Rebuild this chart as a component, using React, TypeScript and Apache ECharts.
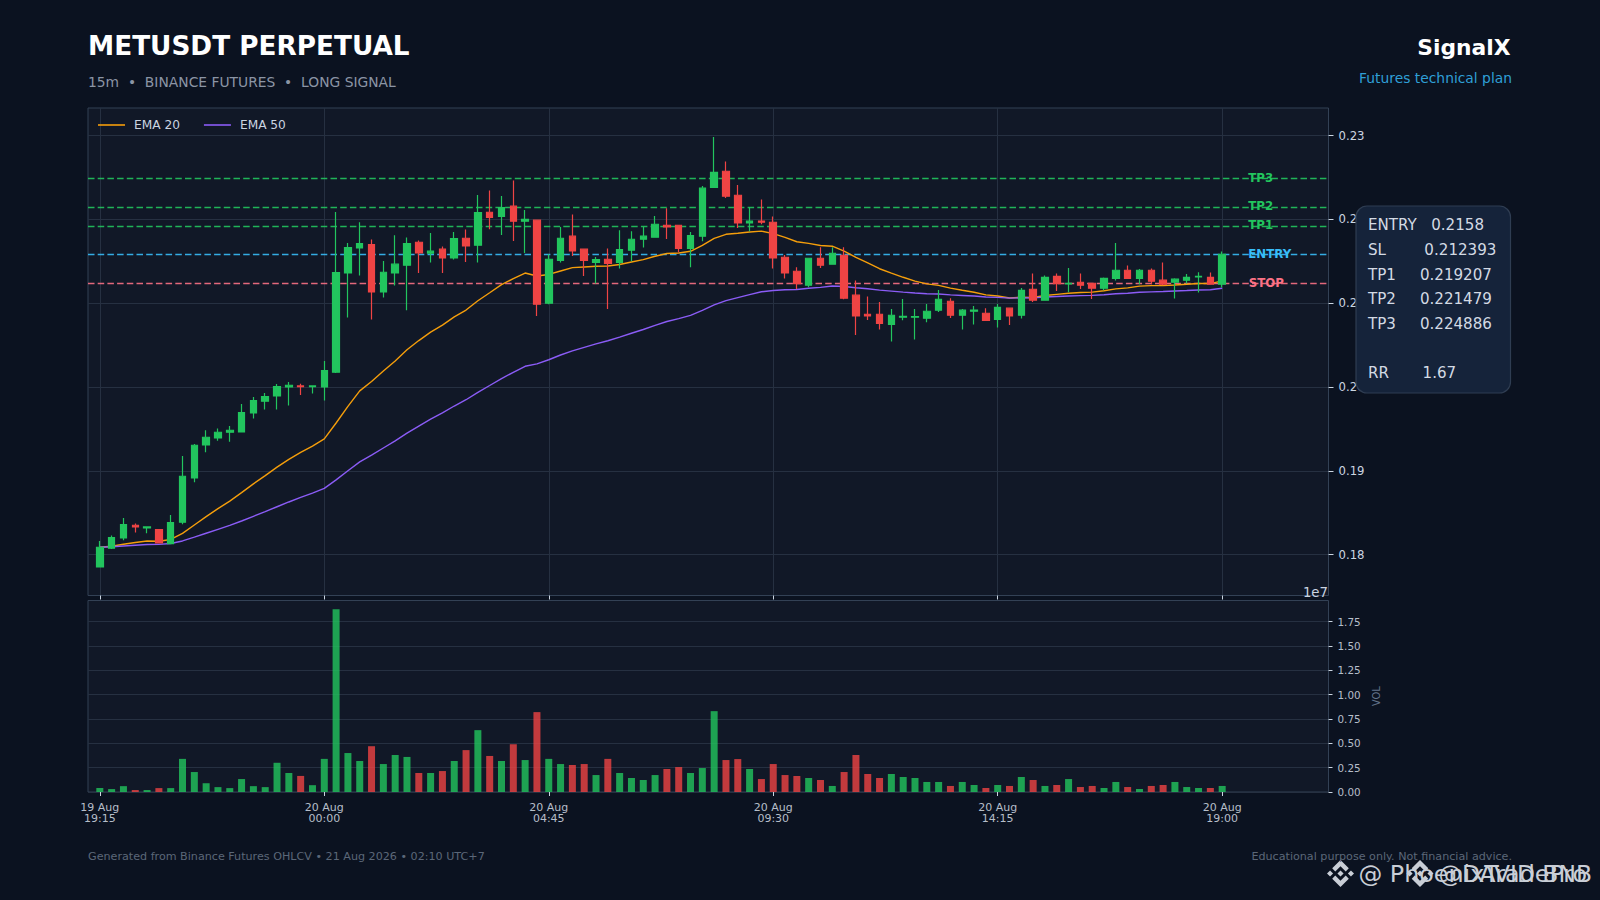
import React, { useEffect, useRef } from "react";
import * as echarts from "echarts";

const opens = [0.17853,0.18076,0.18199,0.1835,0.18318,0.18298,0.18131,0.18386,0.18915,0.19309,0.19392,0.1946,0.19464,0.19691,0.1983,0.19893,0.20001,0.20013,0.20005,0.20001,0.20176,0.21361,0.21659,0.21699,0.21134,0.21361,0.21453,0.21727,0.21596,0.21644,0.2154,0.21775,0.21691,0.22085,0.22037,0.22157,0.21978,0.2199,0.20999,0.21512,0.21799,0.21644,0.21488,0.21524,0.21488,0.21632,0.21763,0.21787,0.2193,0.2193,0.21655,0.21799,0.22383,0.22574,0.22288,0.21958,0.21978,0.21966,0.21548,0.21381,0.21214,0.21536,0.21465,0.21572,0.21095,0.20868,0.20868,0.20748,0.20832,0.20832,0.2082,0.20916,0.21023,0.20856,0.20904,0.2088,0.20808,0.2094,0.20856,0.21166,0.21035,0.21321,0.2123,0.2125,0.21238,0.21178,0.21297,0.21393,0.21297,0.21393,0.21274,0.2125,0.21274,0.21313,0.21309,0.21226];
const closes = [0.18088,0.18203,0.18358,0.1833,0.1833,0.18139,0.18382,0.18935,0.19305,0.194,0.1946,0.19484,0.19695,0.19838,0.19885,0.20005,0.20021,0.20005,0.20013,0.20196,0.21365,0.21663,0.21711,0.21134,0.21369,0.21465,0.21711,0.216,0.2162,0.2154,0.21771,0.21683,0.22081,0.22025,0.22141,0.21978,0.22,0.20987,0.21524,0.21775,0.21624,0.21512,0.2152,0.21476,0.2164,0.21763,0.21799,0.21942,0.2191,0.21655,0.21807,0.22372,0.22562,0.22276,0.21958,0.21978,0.21966,0.2154,0.21361,0.21234,0.21536,0.21453,0.21596,0.21059,0.20848,0.20848,0.2076,0.20856,0.20844,0.2084,0.20904,0.21047,0.20856,0.20916,0.20916,0.20796,0.20951,0.20848,0.21154,0.21035,0.21309,0.21234,0.21238,0.21214,0.21178,0.21297,0.21393,0.21297,0.21393,0.21262,0.21226,0.21286,0.21309,0.21321,0.21226,0.21584];
const lows = [0.17853,0.18068,0.18171,0.18263,0.18255,0.18139,0.18131,0.18362,0.18863,0.19221,0.1936,0.19348,0.19464,0.19623,0.1973,0.1973,0.19778,0.19905,0.19921,0.19838,0.20168,0.20828,0.21329,0.20804,0.21067,0.2121,0.20916,0.21361,0.21484,0.21361,0.2152,0.21492,0.21484,0.21882,0.21815,0.21743,0.216,0.20848,0.20987,0.21484,0.21564,0.21325,0.21234,0.20932,0.21413,0.215,0.21663,0.21787,0.21767,0.21608,0.21429,0.21739,0.22383,0.22256,0.21898,0.21858,0.21942,0.21413,0.21294,0.2117,0.2119,0.2142,0.21465,0.21047,0.20621,0.208,0.20685,0.20542,0.20796,0.20566,0.20772,0.20896,0.20824,0.20685,0.20745,0.20796,0.20709,0.20741,0.20816,0.21015,0.21035,0.21146,0.2113,0.2117,0.21051,0.21154,0.2127,0.21297,0.21226,0.21226,0.21214,0.21055,0.21234,0.21126,0.21226,0.21186];
const highs = [0.18163,0.18227,0.18438,0.1837,0.18334,0.18302,0.18473,0.19177,0.19321,0.19484,0.19504,0.19535,0.19798,0.19881,0.19929,0.20037,0.2006,0.2004,0.20015,0.20311,0.22089,0.21719,0.21966,0.21759,0.21504,0.21811,0.21783,0.21747,0.21838,0.21675,0.2185,0.21878,0.22292,0.22344,0.2228,0.22463,0.22113,0.21998,0.21584,0.2191,0.22057,0.21644,0.21552,0.21652,0.2187,0.21858,0.2191,0.22041,0.22133,0.2193,0.2185,0.22399,0.22984,0.2269,0.22411,0.22145,0.22236,0.22033,0.21576,0.21429,0.21536,0.21667,0.21667,0.21667,0.2127,0.21079,0.21015,0.20931,0.21051,0.20931,0.20991,0.21158,0.21059,0.20931,0.20967,0.2094,0.20991,0.2094,0.21182,0.21353,0.21329,0.21353,0.2142,0.21353,0.21238,0.21305,0.21719,0.21449,0.21409,0.21413,0.21484,0.21297,0.21349,0.21369,0.21365,0.21616];
const volumes = [0.041,0.03,0.06,0.02,0.02,0.04,0.04,0.34,0.205,0.09,0.05,0.04,0.133,0.06,0.05,0.3,0.195,0.165,0.07,0.34,1.876,0.4,0.318,0.47,0.287,0.38,0.36,0.195,0.195,0.215,0.318,0.43,0.635,0.37,0.318,0.49,0.328,0.82,0.34,0.287,0.277,0.287,0.174,0.34,0.195,0.144,0.123,0.174,0.236,0.256,0.195,0.246,0.83,0.328,0.338,0.236,0.133,0.287,0.174,0.164,0.144,0.123,0.062,0.205,0.38,0.185,0.144,0.185,0.154,0.144,0.103,0.103,0.062,0.103,0.072,0.041,0.072,0.062,0.154,0.123,0.062,0.072,0.133,0.051,0.062,0.041,0.103,0.051,0.031,0.062,0.072,0.103,0.051,0.041,0.041,0.062];
const ema20 = [0.18088,0.18099,0.18124,0.18144,0.18162,0.1816,0.18181,0.18253,0.18353,0.18453,0.18549,0.18638,0.18739,0.18844,0.18943,0.19044,0.19137,0.1922,0.19295,0.19381,0.1957,0.19769,0.19954,0.20066,0.2019,0.20311,0.20444,0.20554,0.20655,0.20739,0.20837,0.20918,0.21029,0.21124,0.21221,0.21293,0.2136,0.21324,0.21343,0.21384,0.21424,0.21432,0.2144,0.21443,0.21462,0.21491,0.2152,0.2156,0.21593,0.21599,0.21619,0.21691,0.21774,0.21822,0.21835,0.21849,0.2186,0.2183,0.21785,0.21733,0.21714,0.21689,0.2168,0.21621,0.21547,0.2148,0.21411,0.21358,0.21309,0.21264,0.2123,0.21213,0.21179,0.21154,0.21131,0.21099,0.21085,0.21062,0.21071,0.21068,0.21091,0.21105,0.21118,0.21127,0.21132,0.21148,0.21171,0.21183,0.21203,0.21209,0.2121,0.21217,0.21226,0.21235,0.21234,0.21267];
const ema50 = [0.18088,0.18093,0.18103,0.18112,0.18121,0.18122,0.18132,0.18163,0.18208,0.18255,0.18302,0.18348,0.18401,0.18457,0.18513,0.18571,0.18628,0.18682,0.18734,0.18791,0.18892,0.19001,0.19107,0.19186,0.19272,0.19358,0.1945,0.19534,0.19616,0.19691,0.19773,0.19848,0.19936,0.20018,0.20101,0.20175,0.20247,0.20276,0.20325,0.20382,0.20431,0.20473,0.20514,0.20552,0.20595,0.20641,0.20686,0.20735,0.20781,0.20815,0.20854,0.20914,0.20979,0.2103,0.21066,0.21102,0.21136,0.21152,0.2116,0.21163,0.21178,0.21189,0.21205,0.21199,0.21185,0.21172,0.21156,0.21144,0.21132,0.21121,0.21112,0.21109,0.21099,0.21092,0.21085,0.21074,0.21069,0.2106,0.21064,0.21063,0.21073,0.21079,0.21085,0.2109,0.21093,0.21101,0.21112,0.21119,0.2113,0.21135,0.21139,0.21145,0.21151,0.21158,0.21161,0.21178];

const levelNames = ["TP3", "TP2", "TP1", "ENTRY", "STOP"];
const levelValues = [0.224886, 0.221479, 0.219207, 0.2158, 0.212393];
const levelColors = ["#22c55e", "#22c55e", "#22c55e", "#38bdf8", "#fb7185"];
const levelLabelNudge = [0, -1, -1, -0.5, -0.5];

const priceTicks = [0.18, 0.19, 0.2, 0.21, 0.22, 0.23];
const volumeTicks = [0, 0.25, 0.5, 0.75, 1, 1.25, 1.5, 1.75];
const infoLines = [
  "ENTRY   0.2158",
  "SL        0.212393",
  "TP1     0.219207",
  "TP2     0.221479",
  "TP3     0.224886",
  "",
  "RR       1.67",
];

const LEAD = 1; // empty slot before the first candle
const TOTAL = 106;
const dayNames = ["19 Aug", "20 Aug", "21 Aug"];
const categories: string[] = [];
for (let i = 0; i < TOTAL; i++) {
  const minutes = 19 * 60 + i * 15;
  const day = Math.floor(minutes / 1440);
  const hh = String(Math.floor((minutes % 1440) / 60)).padStart(2, "0");
  const mm = String(minutes % 60).padStart(2, "0");
  categories.push(`${dayNames[day]}\n${hh}:${mm}`);
}
const isTick = (i: number) => (i - LEAD) % 19 === 0 && i - LEAD <= 95 && i >= LEAD;
const pad = (arr: any[]) => {
  const out: any[] = new Array(LEAD).fill("-").concat(arr);
  while (out.length < TOTAL) out.push("-");
  return out;
};

const FONT = "DejaVu Sans";
const BG = "#0b1220";
const PANEL = "#111827";
const GRID = "#263041";
const BORDER = "#334155";
const UP = "#22c55e";
const DOWN = "#ef4444";
const BINANCE =
  "M9.785 13.5l6.215-6.215 6.218 6.218 3.616-3.617L16 0.05 6.169 9.884zM0 16l3.616-3.616L7.232 16l-3.616 3.616zM9.785 18.5l6.215 6.216 6.218-6.219 3.618 3.615-9.836 9.836-9.832-9.833-.005-.005zM24.77 16l3.616-3.616L32 16l-3.616 3.616zM19.667 16h.002L16 12.332l-2.71 2.71-.312.311-.642.643-.005.005.005.005L16 19.669l3.669-3.669z";

export default function App() {
  const ref = useRef<HTMLDivElement>(null);
  useEffect(() => {
    document.body.style.margin = "0";
    document.body.style.background = BG;
    echarts.graphic.registerShape("binanceLogo", (echarts.graphic as any).extendPath(BINANCE, {}));
    const chart = echarts.init(ref.current!, undefined, { renderer: "svg" });

    const candleData = pad(opens.map((o, i) => [o, closes[i], lows[i], highs[i]]));
    const volData = pad(
      volumes.map((v, i) => ({
        value: v,
        itemStyle: { color: closes[i] >= opens[i] ? UP : DOWN, opacity: 0.8 },
      }))
    );

    const txt = (text: string, x: number, y: number, fontSize: number, fill: string, extra: any = {}) => ({
      type: "text",
      x,
      y,
      z: 50,
      silent: true,
      style: { text, x: 0, y: 0, fontSize, fill, fontFamily: FONT, verticalAlign: "middle", ...extra },
    });

    chart.setOption({
      animation: false,
      backgroundColor: BG,
      textStyle: { fontFamily: FONT },
      legend: {
        left: 98,
        top: 119,
        padding: 0,
        icon: "rect",
        itemWidth: 27,
        itemHeight: 1.6,
        itemGap: 24,
        data: ["EMA 20", "EMA 50"],
        textStyle: { color: "#cbd5e1", fontSize: 12.2, fontFamily: FONT, padding: [0, 0, 0, 4] },
      },
      grid: [
        { left: 88, top: 108, width: 1240.5, height: 487.5, show: true, backgroundColor: PANEL, borderColor: BORDER, borderWidth: 1 },
        { left: 88, top: 600.5, width: 1240.5, height: 191.5, show: true, backgroundColor: PANEL, borderColor: BORDER, borderWidth: 1 },
      ],
      xAxis: [
        {
          type: "category",
          gridIndex: 0,
          data: categories,
          boundaryGap: false,
          axisLine: { show: false },
          axisLabel: { show: false, interval: (i: number) => isTick(i) },
          axisTick: { show: true, length: 4, inside: false, interval: (i: number) => isTick(i), lineStyle: { color: "#cbd5e1", width: 1 } },
          splitLine: { show: true, interval: (i: number) => isTick(i), lineStyle: { color: GRID, width: 1 } },
        },
        {
          type: "category",
          gridIndex: 1,
          data: categories,
          boundaryGap: false,
          axisLine: { show: false },
          axisLabel: {
            show: true,
            interval: (i: number) => isTick(i),
            color: "#b6bec9",
            fontSize: 11,
            lineHeight: 11.3,
            margin: 10,
            fontFamily: FONT,
          },
          axisTick: { show: true, length: 4, interval: (i: number) => isTick(i), lineStyle: { color: "#cbd5e1", width: 1 } },
          splitLine: { show: false },
        },
      ],
      yAxis: [
        {
          type: "value",
          gridIndex: 0,
          position: "right",
          min: 0.17512,
          max: 0.23329,
          axisLine: { show: false },
          axisTick: { show: true, length: 5, customValues: priceTicks, lineStyle: { color: "#cbd5e1", width: 1 } },
          axisLabel: {
            customValues: priceTicks,
            color: "#cbd5e1",
            fontSize: 11.7,
            margin: 10,
            fontFamily: FONT,
            formatter: (v: number) => v.toFixed(2),
          },
          splitLine: { show: true, lineStyle: { color: GRID, width: 1 } },
        },
        {
          type: "value",
          gridIndex: 1,
          position: "right",
          min: 0,
          max: 1.966,
          name: "VOL",
          nameLocation: "middle",
          nameRotate: 90,
          nameGap: 37,
          nameTextStyle: { color: "#64748b", fontSize: 9.8, fontFamily: FONT },
          axisLine: { show: false },
          axisTick: { show: true, length: 4, customValues: volumeTicks, lineStyle: { color: "#cbd5e1", width: 1 } },
          axisLabel: {
            customValues: volumeTicks,
            color: "#b6bec9",
            fontSize: 10.4,
            margin: 9,
            fontFamily: FONT,
            formatter: (v: number) => v.toFixed(2),
          },
          splitLine: { show: true, lineStyle: { color: GRID, width: 1 } },
        },
      ],
      series: [
        {
          name: "Levels",
          type: "line",
          xAxisIndex: 0,
          yAxisIndex: 0,
          data: pad([]),
          symbol: "none",
          z: 1,
          silent: true,
          markLine: {
            silent: true,
            symbol: "none",
            precision: 6,
            z: 1,
            label: { show: false },
            data: levelValues.map((v, i) => ({
              yAxis: v,
              lineStyle: { color: levelColors[i], width: 1.3, type: [6.5, 3.2], opacity: 0.9 },
            })),
          },
          markPoint: {
            silent: true,
            symbol: "circle",
            symbolSize: 0,
            z: 20,
            data: levelValues.map((v, i) => ({
              coord: [98, v],
              label: {
                show: true,
                formatter: levelNames[i],
                position: "right",
                distance: 0,
                offset: [levelNames[i] === "STOP" ? 3 : 2.5, levelLabelNudge[i]],
                color: levelColors[i],
                fontWeight: "bold",
                fontSize: 11.8,
                fontFamily: FONT,
              },
            })),
          },
        },
        {
          name: "EMA 20",
          type: "line",
          xAxisIndex: 0,
          yAxisIndex: 0,
          data: pad(ema20),
          symbol: "none",
          z: 2,
          lineStyle: { color: "#f59e0b", width: 1.4 },
          itemStyle: { color: "#f59e0b" },
        },
        {
          name: "EMA 50",
          type: "line",
          xAxisIndex: 0,
          yAxisIndex: 0,
          data: pad(ema50),
          symbol: "none",
          z: 2,
          lineStyle: { color: "#8b5cf6", width: 1.4 },
          itemStyle: { color: "#8b5cf6" },
        },
        {
          name: "Price",
          type: "candlestick",
          xAxisIndex: 0,
          yAxisIndex: 0,
          data: candleData,
          barWidth: 7,
          z: 3,
          itemStyle: { color: UP, color0: DOWN, borderColor: UP, borderColor0: DOWN, borderWidth: 1.2 },
        },
        {
          name: "Volume",
          type: "bar",
          xAxisIndex: 1,
          yAxisIndex: 1,
          data: volData,
          barWidth: 7,
        },
      ],
      graphic: {
        elements: [
          txt("METUSDT PERPETUAL", 88, 45.5, 26.3, "#ffffff", { fontWeight: "bold" }),
          txt("15m  •  BINANCE FUTURES  •  LONG SIGNAL", 88, 81.7, 13.85, "#8b95a5"),
          txt("SignalX", 1510.5, 47, 21.8, "#ffffff", { fontWeight: "bold", align: "right" }),
          txt("Futures technical plan", 1512, 78, 13.85, "#2f9fd6", { align: "right" }),
          txt("1e7", 1328, 592, 13.3, "#cbd5e1", { align: "right" }),
          {
            type: "rect",
            z: 40,
            silent: true,
            shape: { x: 1356, y: 206, width: 154.5, height: 187, r: 11 },
            style: { fill: "#15233a", stroke: "#2f3d52", lineWidth: 1.2 },
          },
          ...infoLines.map((line, i) => txt(line, 1368, 225.3 + i * 24.65, 15.1, "#d3dae4", { z: 41 })),
          txt("Generated from Binance Futures OHLCV • 21 Aug 2026 • 02:10 UTC+7", 88, 856.5, 11.15, "#5b6778"),
          txt("Educational purpose only. Not financial advice.", 1512, 856.5, 11.15, "#5b6778", { align: "right" }),
          {
            type: "binanceLogo",
            x: 1327,
            y: 860,
            scaleX: 27 / 32,
            scaleY: 27 / 32,
            z: 45,
            silent: true,
            style: { fill: "#c9ced6" },
          },
          txt("@ PhoenixTradePro", 1358.5, 874, 23.8, "#c9ced6"),
          {
            type: "binanceLogo",
            x: 1406.5,
            y: 860,
            scaleX: 27 / 32,
            scaleY: 27 / 32,
            z: 45,
            silent: true,
            style: { fill: "#c9ced6" },
          },
          txt("@DAVID BNB", 1438.5, 874, 23.4, "#c9ced6"),
        ],
      },
    });

    return () => chart.dispose();
  }, []);
  return <div ref={ref} style={{ position: "absolute", left: 0, top: 0, width: 1600, height: 900 }} />;
}
